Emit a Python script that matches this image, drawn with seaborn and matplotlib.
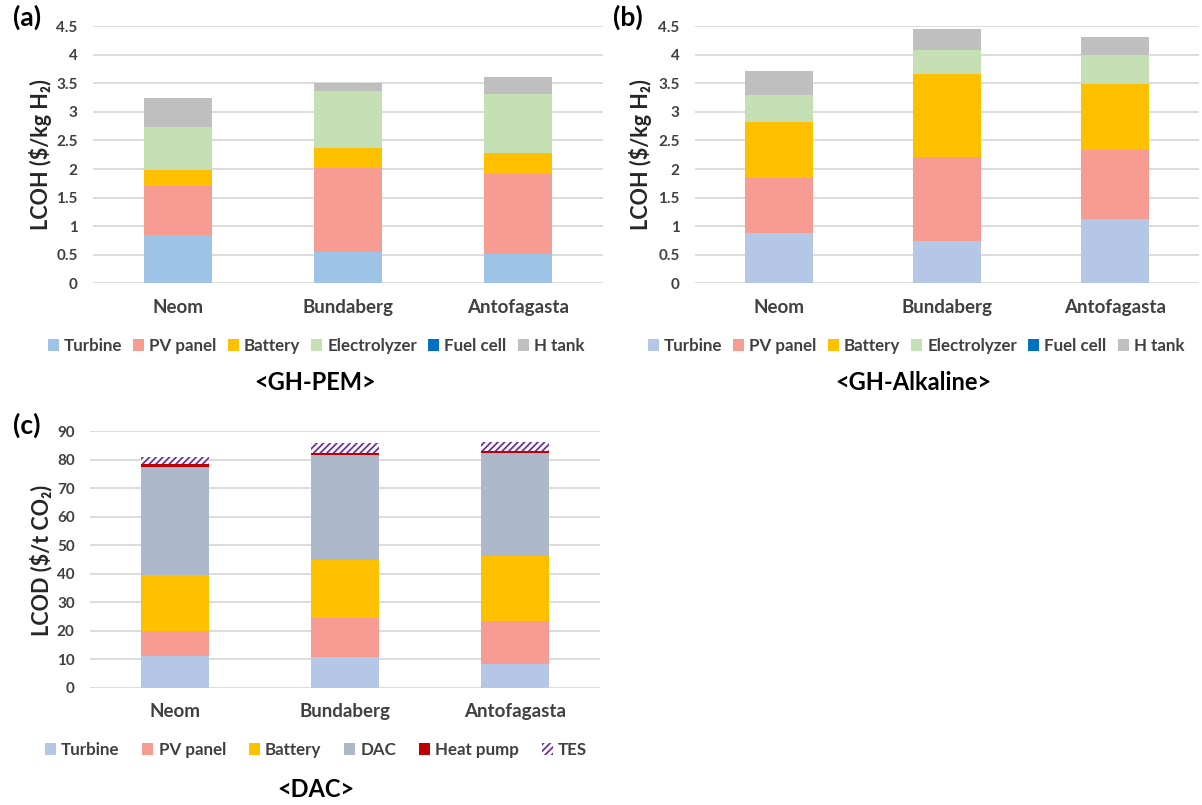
import matplotlib.pyplot as plt
import seaborn as sns
import numpy as np
from matplotlib.patches import Patch

sns.set_theme(style='white')
plt.rcParams['font.family'] = ['Lato', 'DejaVu Sans']
plt.rcParams['hatch.linewidth'] = 1.3

W, H = 1202, 805

sites = ['Neom', 'Bundaberg', 'Antofagasta']

# GH-PEM  (LCOH, $/kg H2)
pem_parts = ['Turbine', 'PV panel', 'Battery', 'Electrolyzer', 'Fuel cell', 'H tank']
pem_values = {
    'Turbine':      [0.85, 0.55, 0.52],
    'PV panel':     [0.86, 1.47, 1.40],
    'Battery':      [0.27, 0.35, 0.36],
    'Electrolyzer': [0.76, 1.00, 1.04],
    'Fuel cell':    [0.00, 0.00, 0.00],
    'H tank':       [0.50, 0.14, 0.29],
}

# GH-Alkaline (LCOH, $/kg H2)
alk_parts = ['Turbine', 'PV panel', 'Battery', 'Electrolyzer', 'Fuel cell', 'H tank']
alk_values = {
    'Turbine':      [0.88, 0.75, 1.13],
    'PV panel':     [0.97, 1.46, 1.20],
    'Battery':      [0.97, 1.45, 1.15],
    'Electrolyzer': [0.47, 0.42, 0.51],
    'Fuel cell':    [0.00, 0.00, 0.00],
    'H tank':       [0.43, 0.36, 0.32],
}

# DAC (LCOD, $/t CO2)
dac_parts = ['Turbine', 'PV panel', 'Battery', 'DAC', 'Heat pump', 'TES']
dac_values = {
    'Turbine':   [11.1, 10.8, 8.2],
    'PV panel':  [8.6, 13.8, 15.2],
    'Battery':   [19.8, 20.3, 22.8],
    'DAC':       [38.0, 36.8, 36.1],
    'Heat pump': [1.1, 0.9, 1.0],
    'TES':       [2.6, 3.3, 3.1],
}

pem_colors = {'Turbine': '#9DC3E6', 'PV panel': '#F79C93', 'Battery': '#FFC000',
              'Electrolyzer': '#C5E0B4', 'Fuel cell': '#0070C0', 'H tank': '#BFBFBF'}
alk_colors = dict(pem_colors, Turbine='#B4C7E7')
dac_colors = {'Turbine': '#B4C7E7', 'PV panel': '#F79C93', 'Battery': '#FFC000',
              'DAC': '#ADB9CA', 'Heat pump': '#C00000', 'TES': 'white'}
TES_HATCH = '#7030A0'

TICK_C = '#404040'


def px_axes(fig, left, top, right, bottom):
    return fig.add_axes([left / W, 1 - bottom / H, (right - left) / W, (bottom - top) / H])


def stacked(ax, parts, values, colors, ymax, ystep):
    cum = np.cumsum(np.array([values[p] for p in parts]), axis=0)
    # draw cumulative totals from the top down so each layer covers the one above
    for i in reversed(range(len(parts))):
        p = parts[i]
        kw = dict(linewidth=0)
        if p == 'TES':
            kw = dict(hatch='/////', edgecolor=TES_HATCH, linewidth=0)
        sns.barplot(x=sites, y=cum[i], color=colors[p], width=0.4, saturation=1,
                    errorbar=None, ax=ax, **kw)
    ax.set_ylim(0, ymax)
    ticks = np.arange(0, ymax + ystep / 2, ystep)
    ax.set_yticks(ticks)
    ax.set_yticklabels([f'{t:g}' for t in ticks])
    ax.set_axisbelow(True)
    ax.yaxis.grid(True, color='#D9D9D9', linewidth=1.3)
    for s in ax.spines.values():
        s.set_visible(False)
    ax.tick_params(axis='y', length=0, pad=11, labelsize=11, labelcolor=TICK_C)
    ax.tick_params(axis='x', length=0, pad=11, labelsize=13.5, labelcolor=TICK_C)
    for lab in ax.get_xticklabels() + ax.get_yticklabels():
        lab.set_fontweight('bold')
    ax.set_xlabel('')
    ax.set_ylabel('')


def add_legend(fig, parts, colors, cx, cy, spacing):
    handles = []
    for p in parts:
        if p == 'TES':
            handles.append(Patch(facecolor='white', edgecolor=TES_HATCH, hatch='/////',
                                 linewidth=0, label=p))
        else:
            handles.append(Patch(facecolor=colors[p], linewidth=0, label=p))
    fig.legend(handles=handles, loc='center', bbox_to_anchor=(cx / W, 1 - cy / H),
               ncol=len(parts), frameon=False, handlelength=0.65, handleheight=0.65,
               handletextpad=0.3, columnspacing=spacing, borderaxespad=0,
               prop={'weight': 'bold', 'size': 12.2}, labelcolor=TICK_C)


fig = plt.figure(figsize=(W / 100, H / 100), dpi=100)

ax_a = px_axes(fig, 93, 26, 603, 283.5)
stacked(ax_a, pem_parts, pem_values, pem_colors, 4.5, 0.5)
ax_b = px_axes(fig, 695, 26, 1199, 283.5)
stacked(ax_b, alk_parts, alk_values, alk_colors, 4.5, 0.5)
ax_c = px_axes(fig, 90, 431.5, 600, 687.5)
stacked(ax_c, dac_parts, dac_values, dac_colors, 90, 10)

add_legend(fig, pem_parts, pem_colors, 316, 346, 0.65)
add_legend(fig, alk_parts, alk_colors, 916, 346, 0.65)
add_legend(fig, dac_parts, dac_colors, 316, 750, 1.35)

ylab_kw = dict(rotation=90, ha='center', va='center', fontsize=15.5, fontweight='bold', color='#262626')
fig.text(41 / W, 1 - 155 / H, 'LCOH ($/kg H₂)', **ylab_kw)
fig.text(641 / W, 1 - 155 / H, 'LCOH ($/kg H₂)', **ylab_kw)
fig.text(41 / W, 1 - 560 / H, 'LCOD ($/t CO₂)', **ylab_kw)

panel_kw = dict(ha='center', va='center', fontsize=19, fontweight='bold', color='black')
fig.text(27 / W, 1 - 17 / H, '(a)', **panel_kw)
fig.text(628 / W, 1 - 17 / H, '(b)', **panel_kw)
fig.text(27 / W, 1 - 425 / H, '(c)', **panel_kw)

title_kw = dict(ha='center', va='center', fontsize=17, fontweight='bold', color='black')
fig.text(315 / W, 1 - 382 / H, '<GH-PEM>', **title_kw)
fig.text(913 / W, 1 - 382 / H, '<GH-Alkaline>', **title_kw)
fig.text(316 / W, 1 - 789 / H, '<DAC>', **title_kw)

fig.savefig('out.png', dpi=100)
